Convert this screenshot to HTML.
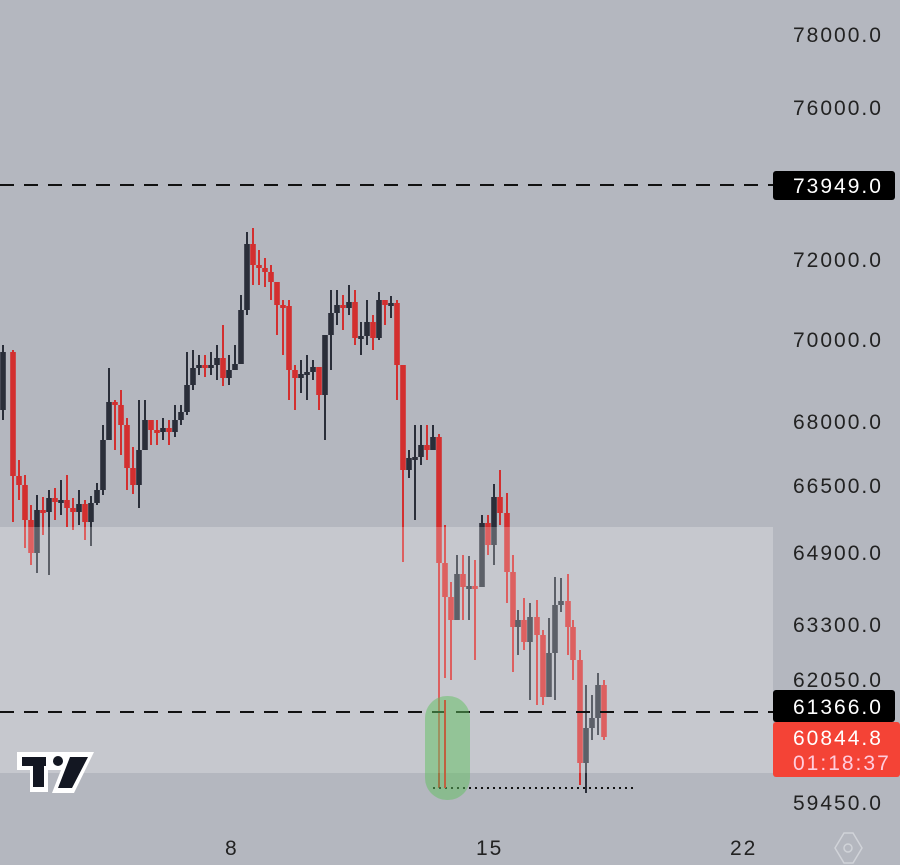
<!DOCTYPE html>
<html><head><meta charset="utf-8"><style>
html,body{margin:0;padding:0;background:#b4b7bf;}
svg{display:block;}
text{font-family:"Liberation Sans",sans-serif;}
</style></head><body>
<svg id="c" width="900" height="865" xmlns="http://www.w3.org/2000/svg">
<rect width="900" height="865" fill="#b4b7bf"/>
<g id="candles"></g>
<rect x="0" y="527" width="773" height="246" fill="#ffffff" fill-opacity="0.24"/>
<line x1="0" y1="185" x2="773" y2="185" stroke="#111" stroke-width="2" stroke-dasharray="14 10"/>
<line x1="0" y1="712" x2="773" y2="712" stroke="#111" stroke-width="2" stroke-dasharray="14 10"/>
<line x1="433" y1="788" x2="635" y2="788" stroke="#111" stroke-width="2" stroke-dasharray="2 4"/>
<rect x="425" y="696" width="45" height="104" rx="22" fill="#5fbf5f" fill-opacity="0.5"/>
<line x1="445" y1="700" x2="445" y2="788" stroke="#c06040" stroke-width="2"/>
<g fill="#222" font-size="21" letter-spacing="2">
<text x="793" y="42">78000.0</text>
<text x="793" y="115">76000.0</text>
<text x="793" y="267">72000.0</text>
<text x="793" y="347">70000.0</text>
<text x="793" y="429">68000.0</text>
<text x="793" y="493">66500.0</text>
<text x="793" y="560">64900.0</text>
<text x="793" y="632">63300.0</text>
<text x="793" y="687">62050.0</text>
<text x="793" y="810">59450.0</text>
<text x="225" y="855">8</text>
<text x="476" y="855">15</text>
<text x="730" y="855">22</text>
</g>
<rect x="773" y="171" width="122" height="29" rx="3" fill="#000"/>
<text x="793" y="193" fill="#fff" font-size="21" letter-spacing="2">73949.0</text>
<rect x="773" y="690" width="122" height="32" rx="3" fill="#000"/>
<text x="793" y="714" fill="#fff" font-size="21" letter-spacing="2">61366.0</text>
<rect x="773" y="722" width="127" height="55" rx="3" fill="#f44336"/>
<text x="793" y="745" fill="#fff" font-size="21" letter-spacing="2">60844.8</text>
<text x="793" y="770" fill="#fcd" font-size="21" letter-spacing="2">01:18:37</text>
<polygon points="835,848 844,833 853,833 862,848 853,863 844,863" fill="none" stroke="#d0d3d8" stroke-width="1.5"/>
<circle cx="848" cy="848" r="4" fill="none" stroke="#d0d3d8" stroke-width="1.5"/>
<g>
<polygon points="17,752 94,752 74,793 52,793 61,770 56,770 48,770 48,792 30,792 30,770 17,770" fill="#fff"/>
<rect x="22" y="757" width="24" height="9" fill="#131722"/>
<rect x="33" y="757" width="11" height="30" fill="#131722"/>
<circle cx="58" cy="761" r="5" fill="#131722"/>
<polygon points="70,757 88,757 72,788 58,788" fill="#131722"/>
</g>
</svg>
<script>
var d=[[3,352,345,420,410],[13,476,350,522],[19,485,460,500],[25,520,475,548],[31,553,505,565],[37,510,495,573],[43,512,497,535],[49,498,490,575],[55,502,488,520],[61,500,480,515],[67,508,475,527],[73,512,498,530],[79,504,490,525],[85,522,500,540],[91,503,496,546],[97,490,483,505],[103,440,425,495],[109,402,368,440],[115,405,400,450],[121,425,390,455],[127,468,418,490],[133,485,447,494],[139,450,400,508],[145,420,400,450],[151,430,420,445],[157,432,420,445],[163,428,418,440],[169,432,420,445],[175,420,405,437],[181,412,405,425],[187,385,352,415],[193,368,350,390],[199,365,355,375],[205,368,355,377],[211,365,352,375],[217,358,345,380],[223,378,325,386],[229,370,355,385],[235,364,345,370],[241,310,295,362],[247,244,232,315],[253,265,228,285],[259,268,250,285],[265,272,258,287],[271,282,265,300],[277,305,290,335],[283,306,300,355],[289,370,300,400],[295,378,365,410],[301,374,360,393],[307,372,355,400],[313,367,360,380],[319,395,370,410],[325,335,370,440],[331,313,290,370],[337,305,290,325],[343,308,295,330],[349,302,285,315],[355,338,290,345],[361,336,322,355],[367,322,300,345],[373,338,315,350],[379,300,292,340],[385,305,300,325],[391,303,296,318],[397,365,300,400],[403,470,395,562],[409,458,450,478],[415,457,425,520],[421,445,425,465],[427,450,425,460],[433,437,425,450],[439,563,434,788],[445,597,525,678],[451,620,582,680],[457,574,555,620],[463,587,555,620],[469,586,556,620],[475,587,560,660],[482,523,515,565],[488,545,515,555],[494,497,484,565],[500,513,470,525],[507,572,493,603],[513,627,555,672],[518,620,610,655],[524,642,598,650],[530,617,603,700],[537,635,600,705],[543,697,630,705],[549,653,618,697],[555,605,577,700],[561,601,578,612],[568,627,574,655],[573,660,620,680],[580,763,650,785],[586,728,685,793],[592,718,695,740],[598,685,673,735],[604,737,680,740]];
var g=document.getElementById('candles'),h='',prev=d[0][4];
for(var i=0;i<d.length;i++){var c=d[i],x=c[0],cl=c[1],hi=c[2],lo=c[3];var op=(i==0)?410:prev;
var red=cl>op;var col=red?'#d32f2f':'#2a2e39';var t=Math.min(op,cl),b=Math.max(op,cl);if(b-t<3){b=t+3;}
h+='<rect x="'+(x-1)+'" y="'+Math.min(hi,t)+'" width="2" height="'+(Math.max(lo,b)-Math.min(hi,t))+'" fill="'+col+'"/>';
h+='<rect x="'+(x-2.8)+'" y="'+t+'" width="5.6" height="'+(b-t)+'" fill="'+col+'"/>';prev=cl;}
g.innerHTML=h;
</script>
</body></html>
